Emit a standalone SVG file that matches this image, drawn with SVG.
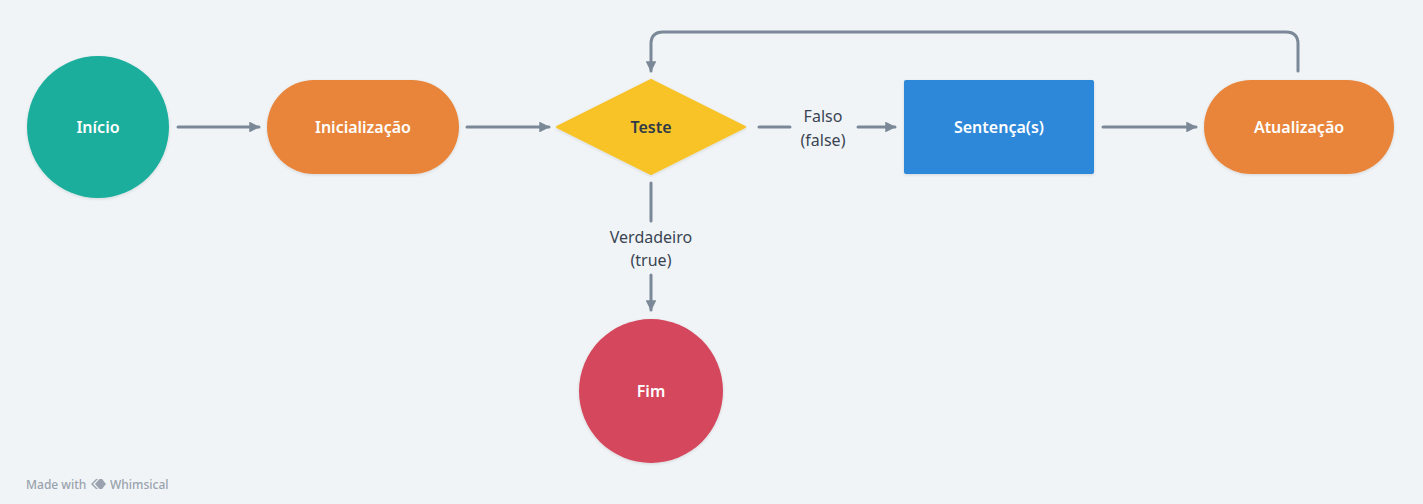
<svg xmlns="http://www.w3.org/2000/svg" width="1423" height="504" viewBox="0 0 1423 504">
<defs>
<style>
.node-text{font-family:"Noto Sans","DejaVu Sans",sans-serif;font-size:16px;font-weight:600;fill:#ffffff;text-anchor:middle;dominant-baseline:central}
.dark{fill:#2f3a48}
.lbl{font-family:"Noto Sans","DejaVu Sans",sans-serif;font-size:16px;fill:#3a4452;text-anchor:middle}
.conn{fill:none;stroke:#7b8897;stroke-width:3;stroke-linecap:round;stroke-linejoin:round}
.foot{font-family:"Noto Sans","DejaVu Sans",sans-serif;font-size:12px;font-weight:500;fill:#9aa3ad}
</style>
<marker id="arr" viewBox="0 0 10 10" refX="9" refY="5" markerWidth="3.6" markerHeight="3.6" orient="auto" markerUnits="strokeWidth">
<path d="M0,0 L10,5 L0,10 Z" fill="#7b8897"/>
</marker>
<filter id="sh" x="-10%" y="-10%" width="120%" height="130%">
<feDropShadow dx="0" dy="1" stdDeviation="1.5" flood-color="#000" flood-opacity="0.12"/>
</filter>
</defs>
<rect width="1423" height="504" fill="#f0f4f7"/>
<g id="connectors">
<line class="conn" x1="178" y1="127" x2="259" y2="127" marker-end="url(#arr)"/>
<line class="conn" x1="467" y1="127" x2="549" y2="127" marker-end="url(#arr)"/>
<line class="conn" x1="759" y1="127" x2="790" y2="127"/>
<line class="conn" x1="858" y1="127" x2="895" y2="127" marker-end="url(#arr)"/>
<line class="conn" x1="1103" y1="127" x2="1196" y2="127" marker-end="url(#arr)"/>
<path class="conn" d="M1298,71 L1298,44 Q1298,32 1286,32 L663,32 Q651,32 651,44 L651,71" marker-end="url(#arr)"/>
<line class="conn" x1="651" y1="183" x2="651" y2="221"/>
<line class="conn" x1="651" y1="275" x2="651" y2="310" marker-end="url(#arr)"/>
<text class="lbl" x="823" y="122">Falso</text>
<text class="lbl" x="823" y="146">(false)</text>
<text class="lbl" x="651" y="243">Verdadeiro</text>
<text class="lbl" x="651" y="266">(true)</text>
</g>
<g id="inicio">
<circle cx="98" cy="127" r="71" fill="#1bae9c" filter="url(#sh)"/>
<text class="node-text" x="98" y="127">Início</text>
</g>
<g id="inicializacao">
<rect x="267" y="80" width="192" height="94" rx="47" fill="#e8853a" filter="url(#sh)"/>
<text class="node-text" x="363" y="127">Inicialização</text>
</g>
<g id="teste">
<polygon points="651,80 745,127 651,174 557,127" fill="#f7c326" stroke="#f7c326" stroke-width="2" stroke-linejoin="round" filter="url(#sh)"/>
<text class="node-text dark" x="651" y="127">Teste</text>
</g>
<g id="sentencas">
<rect x="904" y="80" width="190" height="94" rx="2" fill="#2d88d9" filter="url(#sh)"/>
<text class="node-text" x="999" y="127">Sentença(s)</text>
</g>
<g id="atualizacao">
<rect x="1204" y="80" width="190" height="94" rx="47" fill="#e8853a" filter="url(#sh)"/>
<text class="node-text" x="1299" y="127">Atualização</text>
</g>
<g id="fim">
<circle cx="651" cy="391" r="72" fill="#d4465b" filter="url(#sh)"/>
<text class="node-text" x="651" y="391">Fim</text>
</g>
<g id="footer">
<text class="foot" x="26" y="489">Made with</text>
<path d="M91,484 L96,479 L98,479 L93,484 L98,489 L96,489 Z" fill="#9aa3ad"/>
<path d="M95,484 L99.5,479 L102,479 L106,484 L102,489 L99.5,489 Z" fill="#9aa3ad"/>
<text class="foot" x="110" y="489">Whimsical</text>
</g>
</svg>
